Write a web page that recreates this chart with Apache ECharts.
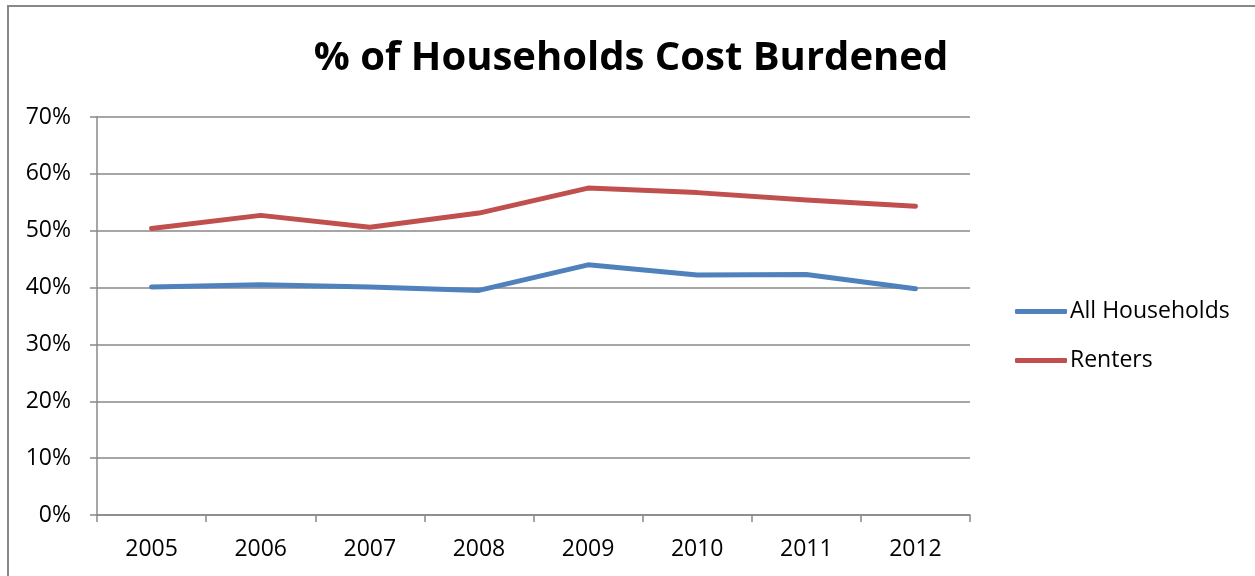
<!DOCTYPE html>
<html>
<head>
<meta charset="utf-8">
<script src="https://cdn.jsdelivr.net/npm/echarts@6/dist/echarts.min.js"></script>
<style>
  html, body { margin: 0; padding: 0; background: #fff; }
  #chart { width: 1255px; height: 576px; }
</style>
</head>
<body>
<div id="chart"></div>
<script>
// data
const years = ["2005", "2006", "2007", "2008", "2009", "2010", "2011", "2012"];
const allHouseholds = [40.1, 40.5, 40.1, 39.5, 44.0, 42.2, 42.3, 39.8];
const renters = [50.4, 52.7, 50.6, 53.1, 57.5, 56.7, 55.4, 54.3];
const yTicks = [0, 10, 20, 30, 40, 50, 60, 70];

const chartDom = document.getElementById("chart");
const myChart = echarts.init(chartDom);

const font = "'Open Sans', 'DejaVu Sans', sans-serif";

const option = {
  backgroundColor: "#fff",
  animation: false,
  title: {
    text: "% of Households Cost Burdened",
    left: 626,
    textAlign: "center",
    top: 34,
    textStyle: { fontFamily: font, fontWeight: "bold", fontSize: 40, color: "#000" },
  },
  graphic: [
    {
      type: "rect",
      shape: { x: 8, y: 6, width: 1300, height: 620 },
      style: { fill: "none", stroke: "#888", lineWidth: 2 },
      silent: true,
    },
  ],
  legend: {
    orient: "vertical",
    left: 1010,
    top: 295,
    itemWidth: 52,
    itemHeight: 5,
    itemGap: 26,
    icon: "roundRect",
    textStyle: { fontFamily: font, fontSize: 23, color: "#000", padding: [0, 0, 0, -2] },
    data: ["All Households", "Renters"],
  },
  grid: { left: 97, right: 285, top: 117, bottom: 61, containLabel: false },
  xAxis: {
    type: "category",
    data: years,
    boundaryGap: true,
    axisLine: { lineStyle: { color: "#888", width: 1.5 } },
    axisTick: { show: true, length: 7, lineStyle: { color: "#888", width: 1.5 } },
    axisLabel: { fontFamily: font, fontSize: 23, color: "#000", margin: 23 },
  },
  yAxis: {
    type: "value",
    min: yTicks[0],
    max: yTicks[yTicks.length - 1],
    interval: 10,
    axisLine: { show: true, lineStyle: { color: "#888", width: 1.5 } },
    axisTick: { show: true, length: 7, lineStyle: { color: "#888", width: 1.5 } },
    splitLine: { lineStyle: { color: "#888", width: 1.5 } },
    axisLabel: {
      fontFamily: font,
      fontSize: 23,
      color: "#000",
      margin: 26,
      formatter: (v) => v + "%",
    },
  },
  series: [
    {
      name: "All Households",
      type: "line",
      data: allHouseholds,
      symbol: "none",
      color: "#4F81BD",
      lineStyle: { width: 5, cap: "round", join: "round" },
    },
    {
      name: "Renters",
      type: "line",
      data: renters,
      symbol: "none",
      color: "#C0504D",
      lineStyle: { width: 5, cap: "round", join: "round" },
    },
  ],
};

option && myChart.setOption(option);
</script>
</body>
</html>
